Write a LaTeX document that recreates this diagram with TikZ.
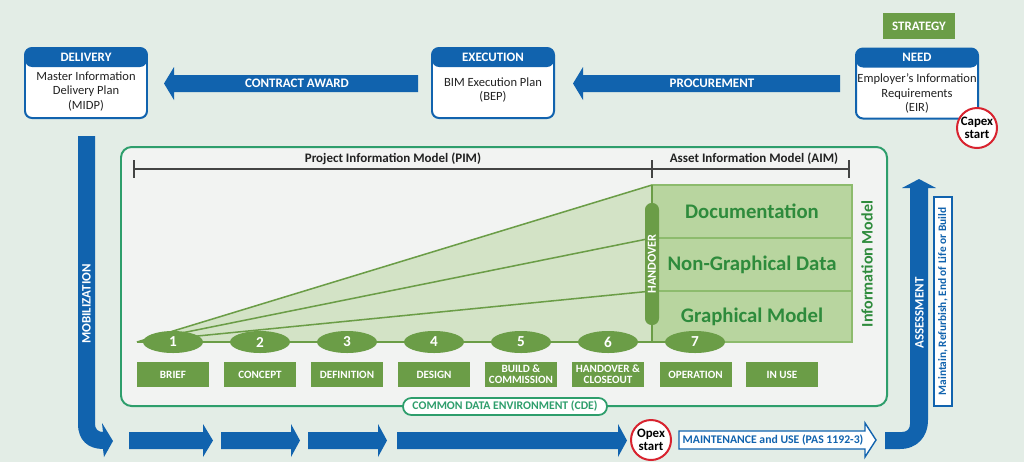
\documentclass[tikz,border=0pt]{standalone}
\usepackage{fontspec}
\setmainfont{Carlito}
\usetikzlibrary{calc,shapes.geometric}
\definecolor{bgc}{HTML}{E3EDE6}
\definecolor{bimblue}{HTML}{1163AE}
\definecolor{stagegreen}{HTML}{6B9D47}
\definecolor{trifill}{HTML}{D3E3C6}
\definecolor{aimfill}{HTML}{B8D59F}
\definecolor{aimline}{HTML}{8DBB6D}
\definecolor{aimtext}{HTML}{2E8B3C}
\definecolor{cdegreen}{HTML}{2E9E6C}
\definecolor{panel}{HTML}{F2F3F2}
\definecolor{redring}{HTML}{D8232F}
\definecolor{darktext}{HTML}{222222}
\definecolor{bracketgray}{HTML}{444444}
\begin{document}
\begin{tikzpicture}[x=0.03cm,y=-0.03cm,
  infobox/.style={draw=bimblue, line width=1.7pt, fill=white, rounded corners=6pt,
    minimum width=3.66cm, minimum height=2.1cm, inner sep=0pt,
    path picture={\fill[bimblue] (path picture bounding box.north west) rectangle ($(path picture bounding box.north east)+(0,19)$);}},
  hdrtext/.style={text=white, font=\bfseries\fontsize{11}{12}\selectfont},
  bodytext/.style={text=darktext, align=center, font=\fontsize{10.7}{12.2}\selectfont},
  arrowtext/.style={text=white, font=\bfseries\fontsize{11.1}{12}\selectfont},
  ring/.style={circle, draw=redring, line width=1.7pt, fill=white, minimum size=1.2cm,
    inner sep=0pt, align=center, text=black, font=\bfseries\fontsize{11}{11.5}\selectfont},
  aimrow/.style={draw=aimline, line width=1.2pt, fill=aimfill, minimum width=6cm, inner sep=0pt,
    text=aimtext, font=\bfseries\fontsize{17.7}{20}\selectfont},
  stage/.style={ellipse, fill=stagegreen, minimum width=1.8cm, minimum height=0.66cm, inner sep=0pt,
    text=white, font=\bfseries\fontsize{13}{14}\selectfont},
  stagelabel/.style={fill=stagegreen, minimum width=2.16cm, minimum height=0.75cm, inner sep=0pt,
    text=white, align=center, font=\bfseries\fontsize{9.5}{10}\selectfont},
  stageline/.style={stagegreen, line width=1.5pt},
  pimtext/.style={text=darktext, font=\bfseries\fontsize{11.1}{13}\selectfont}
]
\fill[bgc] (0,0) rectangle (1024,462);
\useasboundingbox (0,0) rectangle (1024,462);

% ---------- top boxes ----------
\node[infobox] (delivery) at (86,83) {};
\node[hdrtext] at ($(delivery.north)+(0,10)$) {DELIVERY};
\node[bodytext] (midp) at ($(delivery.center)+(0,8.5)$) {Master Information\\Delivery Plan\\(MIDP)};

\node[infobox] (execution) at (493,83) {};
\node[hdrtext] at ($(execution.north)+(0,10)$) {EXECUTION};
\node[bodytext] (bep) at ($(execution.center)+(0,7)$) {BIM Execution Plan\\(BEP)};

\node[infobox] (need) at (917,83.5) {};
\node[hdrtext] at ($(need.north)+(0,10)$) {NEED};
\node[bodytext] (eir) at ($(need.center)+(0,10)$) {Employer’s Information\\Requirements\\(EIR)};

\node[fill=stagegreen, minimum width=2.16cm, minimum height=0.78cm, inner sep=0pt,
  text=white, font=\bfseries\fontsize{11}{12}\selectfont] (strategy) at (919,26) {STRATEGY};

\node[ring] (capex) at (977,128) {Capex\\start};

% ---------- top arrows ----------
\fill[bimblue] (418,75) -- (174,75) -- (174,67) -- (164,83.5) -- (174,100) -- (174,92) -- (418,92) -- cycle;
\node[arrowtext] (award) at (297,83.5) {CONTRACT AWARD};
\fill[bimblue] (840,75) -- (583,75) -- (583,67) -- (573,83.5) -- (583,100) -- (583,92) -- (840,92) -- cycle;
\node[arrowtext] (procurement) at (712,83.5) {PROCUREMENT};

% ---------- main panel ----------
\draw[cdegreen, line width=1.7pt, fill=panel, rounded corners=9pt] (121,147) rectangle (887,406);

% PIM / AIM bracket
\draw[bracketgray, line width=1.1pt] (134,169) -- (849,169);
\foreach \tx in {134,652,849} \draw[bracketgray, line width=1.1pt] (\tx,160) -- (\tx,178);
\node[pimtext] (pim) at (393,159) {Project Information Model (PIM)};
\node[pimtext] (aim) at (754,159) {Asset Information Model (AIM)};

% triangle of growth
\coordinate (tip) at (137,342);
\fill[trifill] (tip) -- (652,185) -- (652,342) -- cycle;
\draw[stagegreen, line width=1.3pt] (652,185) -- (tip) -- (652,238);
\draw[stagegreen, line width=1.3pt] (tip) -- (652,291);

% AIM rows
\node[aimrow, minimum height=1.59cm] (doc) at (752,211.5) {Documentation};
\node[aimrow, minimum height=1.59cm] (ngd) at (752,264.5) {Non-Graphical Data};
\node[aimrow, minimum height=1.53cm] (gm) at (752,316.5) {Graphical Model};

% handover
\draw[stagegreen, line width=1.3pt] (652,185) -- (652,342);
\node[fill=stagegreen, rounded corners=0.2cm, minimum width=0.42cm, minimum height=3.66cm, inner sep=0pt] (handover) at (652,264) {};
\node[rotate=90, text=white, font=\bfseries\fontsize{10.5}{12}\selectfont] at (handover) {HANDOVER};

\node[rotate=90, text=aimtext, font=\bfseries\fontsize{13.7}{16}\selectfont] (im) at (867,264) {Information Model};

% stages
\foreach \i/\x in {1/173,2/260,3/347,4/434,5/521,6/608,7/695}
  \node[stage] (s\i) at (\x,342) {\i};
\draw[stageline] (tip) -- (s1.west);
\foreach \a/\b in {1/2,2/3,3/4,4/5,5/6,6/7}
  \draw[stageline] (s\a.east) -- (s\b.west);

\node[stagelabel] (l1) at (173,374.5) {BRIEF};
\node[stagelabel] (l2) at (260,374.5) {CONCEPT};
\node[stagelabel] (l3) at (347,374.5) {DEFINITION};
\node[stagelabel] (l4) at (434,374.5) {DESIGN};
\node[stagelabel, font=\bfseries\fontsize{9.5}{9.3}\selectfont] (l5) at (521,374.5) {BUILD \&\\COMMISSION};
\node[stagelabel, font=\bfseries\fontsize{9.5}{9.3}\selectfont] (l6) at (608,374.5) {HANDOVER \&\\CLOSEOUT};
\node[stagelabel] (l7) at (695.5,374.5) {OPERATION};
\node[stagelabel] (l8) at (782,374.5) {IN USE};

% CDE label
\node[draw=cdegreen, line width=1.5pt, fill=white, rounded corners=0.25cm, minimum width=6.12cm,
  minimum height=0.51cm, inner sep=0pt, text=cdegreen, font=\bfseries\fontsize{10}{11}\selectfont]
  (cdelabel) at (505,406.5) {COMMON DATA ENVIRONMENT (CDE)};

% ---------- mobilization ----------
\fill[bimblue] (78,136) -- (95,136) -- (95,424) .. controls (95,429) and (98,432) .. (103,432)
  -- (102,423) -- (113,441) -- (104,457) -- (103,449) .. controls (88,449) and (78,440) .. (78,424) -- cycle;
\node[rotate=90, text=white, font=\bfseries\fontsize{11}{12}\selectfont] (mobil) at (86.5,304) {MOBILIZATION};

% bottom arrows
\foreach \xa/\xb/\xc in {129/203/213, 221/291/300, 308/378/387, 397/618/627}
  \fill[bimblue] (\xa,432) -- (\xb,432) -- (\xb,424) -- (\xc,440.5) -- (\xb,457) -- (\xb,449) -- (\xa,449) -- cycle;

\node[ring] (opex) at (651,440) {Opex\\start};

\draw[bimblue, line width=1.2pt, fill=white] (679,431) -- (865,431) -- (865,423) -- (876,440) -- (865,457) -- (865,449) -- (679,449) -- cycle;
\node[text=bimblue, font=\bfseries\fontsize{10}{11}\selectfont] (maint) at (773,440) {MAINTENANCE and USE (PAS 1192-3)};

% ---------- assessment ----------
\fill[bimblue] (885,432) -- (902,432) .. controls (907,432) and (910,429) .. (910,424) -- (910,188)
  -- (902,188) -- (919,179) -- (936,188) -- (928,188) -- (928,420)
  .. controls (928,437) and (917,449) .. (900,449) -- (885,449) -- cycle;
\node[rotate=90, text=white, font=\bfseries\fontsize{11}{12}\selectfont] (assess) at (919.5,313) {ASSESSMENT};

\node[rotate=90, draw=bimblue, line width=1.2pt, fill=white, minimum width=6.27cm, minimum height=0.54cm,
  inner sep=0pt, text=bimblue, font=\bfseries\fontsize{9.7}{11}\selectfont] (mrel) at (943,301.5)
  {Maintain, Refurbish, End of Life or Build};
\end{tikzpicture}
\end{document}
